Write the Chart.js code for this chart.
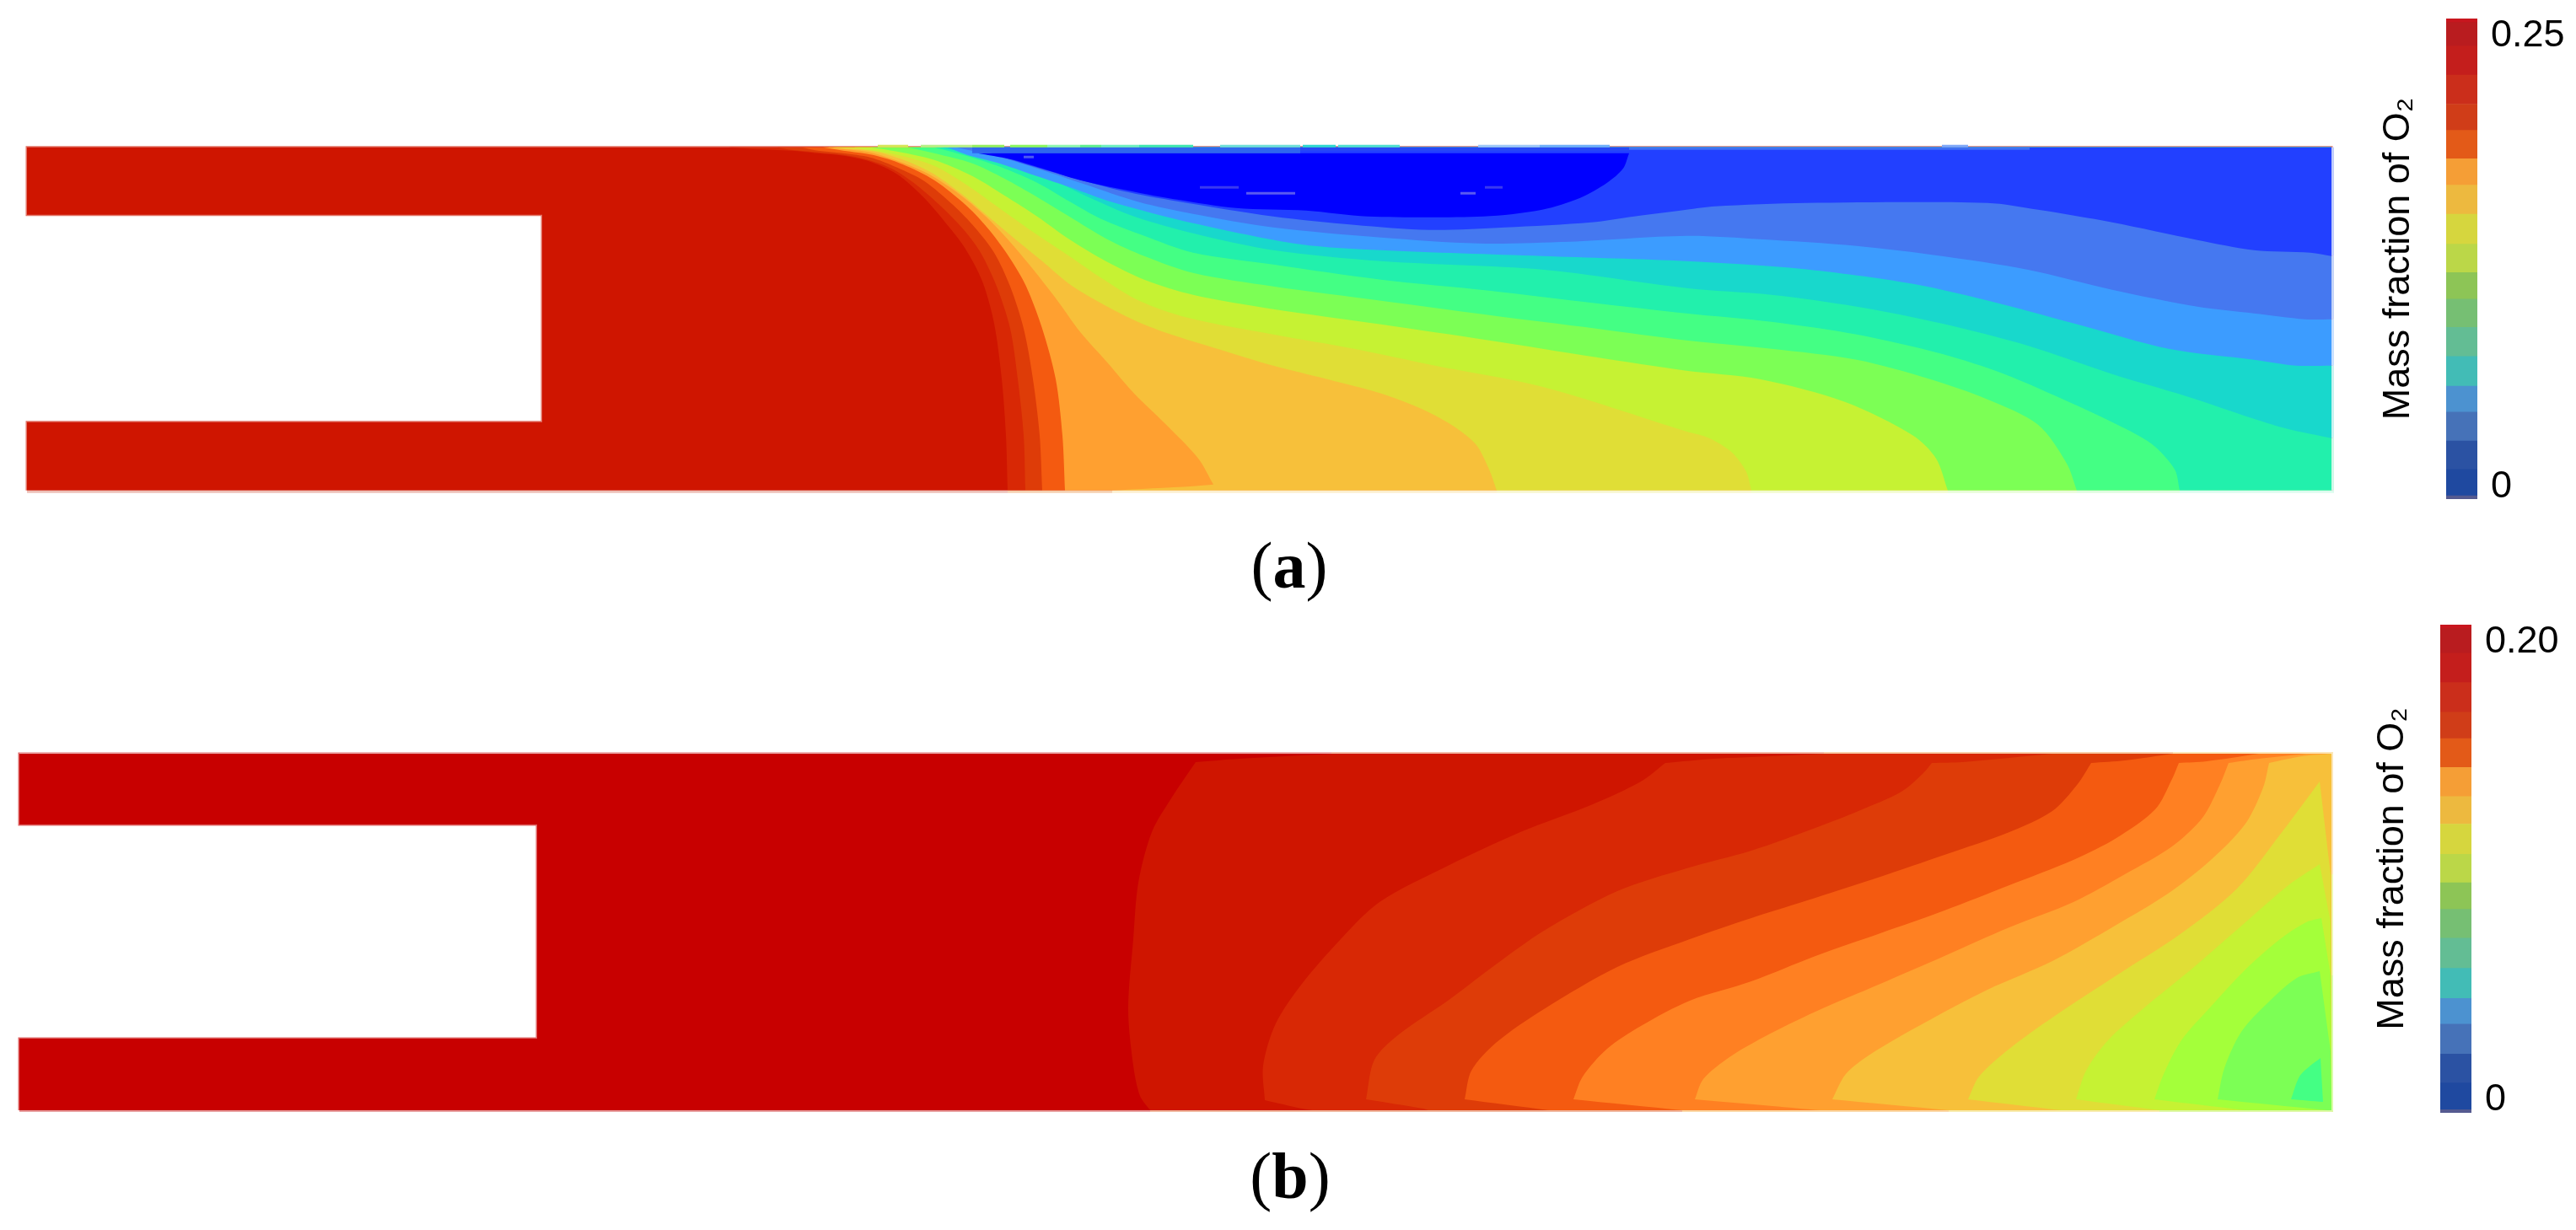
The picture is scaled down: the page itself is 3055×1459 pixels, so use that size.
<!DOCTYPE html>
<html>
<head>
<meta charset="utf-8">
<title>Mass fraction of O2</title>
<script src="https://cdn.jsdelivr.net/npm/chart.js@4"></script>
<style>
    html, body { margin: 0; padding: 0; background: #fff; }
    body { position: relative; width: 3055px; height: 1459px; overflow: hidden; }
    canvas { position: absolute; }
    .tag { position: absolute; width: 200px; text-align: center; font: 78px/90px "Liberation Serif", serif; color: #000; }
</style>
</head>
<body>
<canvas id="panelA" width="2760" height="430" style="left:20px;top:162px"></canvas>
<canvas id="barA" width="255" height="592" style="left:2800px;top:10px"></canvas>
<div class="tag" style="left:1429px;top:626px">(<b>a</b>)</div>
<canvas id="panelB" width="2770" height="450" style="left:11px;top:880px"></canvas>
<canvas id="barB" width="255" height="600" style="left:2793px;top:730px"></canvas>
<div class="tag" style="left:1430px;top:1350px">(<b>b</b>)</div>

<script>
// duct outlines, position along / across the duct
const ductA = [[0,0],[2733,0],[2733,407],[0,407],[0,327],[611,327],[611,81],[0,81],[0,0]];
const ductB = [[0,0],[2742,0],[2742,423],[0,423],[0,339],[614,339],[614,85],[0,85],[0,0]];

// panel (a) iso-O2 lines, highest level first
const a01 = [[1163,0],[1161,65],[1156,132],[1147,198],[1133,248],[1112,288],[1089,318],[1064,347],[1032,375],[1000,390],[968,397],[938,400],[906,403],[861,405],[832,407],[2733,407],[2733,0]];
const a02 = [[1184,0],[1182,65],[1175,132],[1166,192],[1150,242],[1131,282],[1112,308],[1086,335],[1054,363],[1025,382],[994,393],[968,398],[938,401],[906,404],[890,407],[2733,407],[2733,0]];
const a03 = [[1204,0],[1201,65],[1193,132],[1182,192],[1166,242],[1147,282],[1124,312],[1099,338],[1064,367],[1032,383],[1000,395],[968,400],[938,403],[919,407],[2733,407],[2733,0]];
const a04 = [[1231,0],[1228,65],[1220,132],[1204,192],[1185,242],[1166,275],[1142,308],[1115,337],[1076,368],[1038,387],[1003,398],[968,403],[944,407],[2733,407],[2733,0]];
const a05 = [[1287,0],[1383,5],[1407,7],[1407,7],[1389,38],[1351,78],[1313,115],[1281,152],[1249,188],[1220,228],[1191,265],[1163,298],[1137,325],[1105,352],[1070,375],[1035,390],[1000,401],[968,405],[950,407],[2733,407],[2733,0]];
const a06 = [[1743,0],[1734,25],[1718,55],[1689,78],[1651,98],[1606,115],[1542,132],[1478,148],[1415,167],[1351,187],[1313,202],[1274,222],[1236,245],[1204,272],[1172,298],[1140,325],[1108,352],[1076,375],[1045,390],[1006,402],[968,406],[955,407],[2733,407],[2733,0]];
const a07 = [[2045,0],[2039,22],[2022,45],[1995,62],[1968,70],[1797,123],[1670,148],[1574,168],[1478,185],[1376,205],[1319,225],[1274,252],[1236,278],[1191,308],[1153,335],[1115,362],[1076,385],[1032,398],[987,406],[981,407],[2733,407],[2733,0]];
const a08 = [[2278,0],[2264,38],[2237,65],[2156,105],[2055,132],[1968,142],[1861,158],[1734,178],[1606,197],[1478,215],[1383,232],[1325,250],[1274,275],[1236,298],[1198,325],[1159,350],[1121,373],[1076,392],[1032,402],[1000,407],[2733,407],[2733,0]];
const a09 = [[2431,0],[2419,32],[2385,78],[2325,108],[2257,132],[2170,155],[2069,168],[1968,178],[1861,192],[1734,208],[1606,225],[1478,242],[1383,258],[1325,278],[1281,298],[1236,325],[1198,348],[1159,370],[1121,388],[1076,400],[1045,407],[2733,407],[2733,0]];
const a10 = [[2553,0],[2547,25],[2520,55],[2479,78],[2426,103],[2345,138],[2271,162],[2170,185],[2069,200],[1968,210],[1861,222],[1734,237],[1606,250],[1478,268],[1383,282],[1325,302],[1274,322],[1236,343],[1198,365],[1159,382],[1121,395],[1076,407],[2733,407],[2733,0]];
const a11 = [[2733,62],[2681,73],[2641,85],[2560,112],[2473,138],[2372,172],[2271,198],[2170,218],[2069,232],[1968,240],[1797,262],[1606,272],[1478,285],[1383,305],[1313,325],[1261,347],[1223,365],[1185,380],[1147,392],[1108,402],[1083,407],[2733,407]];
const a12 = [[2733,148],[2691,148],[2641,155],[2540,168],[2439,195],[2338,222],[2237,245],[2103,263],[1968,272],[1797,278],[1606,285],[1510,292],[1383,317],[1287,342],[1236,360],[1191,375],[1153,388],[1115,398],[1092,407],[2733,407]];
const a13 = [[2733,203],[2702,203],[2641,210],[2574,218],[2473,238],[2372,262],[2271,278],[2170,290],[2055,298],[1968,302],[1829,295],[1721,293],[1606,300],[1478,312],[1383,328],[1319,342],[1255,363],[1210,378],[1166,392],[1134,400],[1102,407],[2733,407]];
const a14 = [[2733,278],[2708,282],[2641,285],[2574,297],[2473,318],[2385,333],[2325,341],[2109,341],[2002,337],[1968,333],[1906,325],[1855,318],[1753,312],[1663,309],[1574,315],[1478,325],[1364,343],[1300,355],[1236,372],[1191,385],[1153,397],[1121,407],[2733,407]];
const a15 = [[1900,400],[1900,400],[1893,382],[1874,365],[1842,347],[1797,333],[1727,325],[1590,325],[1517,332],[1434,335],[1364,345],[1319,353],[1249,368],[1204,382],[1166,393],[1127,400],[1127,400]];
const contoursA = [a01,a02,a03,a04,a05,a06,a07,a08,a09,a10,a11,a12,a13,a14,a15];
const colorsA = ["#D82805","#DE3C08","#F45A10","#FFA030","#F7C03A","#E0DE36","#C6F233","#7CFF55","#44FF84","#22F0AC","#18D8CC","#3C9CFF","#4578F0","#2240FF","#0000FF"];
const ductColorA = "#CF1500";

// thin strips along the walls of (a): from, to, lower edge, upper edge, colour
const stripsA = [
    [1121,1510,400,407,"#2F66EE"],[1510,1900,403,407,"#2748F5"],[1900,2375,404,407,"#3F70F2"],
    [1182,1194,394,397,"#4A5AF0"],[1391,1437,358,361,"#3A3AF0"],[1446,1504,351,354,"#5A5AF0"],
    [1700,1718,351,354,"#5A5AF0"],[1729,1750,358,361,"#3A3AF0"],
    [1009,1045,407,410,"#D7E65A"],[1060,1121,407,410,"#B8F088"],[1121,1159,407,410,"#96F060"],
    [1166,1210,407,410,"#8CF860"],[1210,1249,407,410,"#90F8B0"],[1249,1274,407,410,"#60F090"],
    [1274,1319,407,410,"#70F0C0"],[1319,1383,407,410,"#40E8B0"],[1415,1510,407,410,"#70E0D8"],
    [1513,1552,407,410,"#30D8D0"],[1555,1628,407,410,"#50E0D0"],[1721,1794,407,410,"#A0C8F8"],
    [1794,1877,407,410,"#70B0FA"],[2271,2302,407,410,"#80A8F8"],
    [0,1163,-3,0,"#EDC0B8"],[1163,1287,-3,0,"#F5D0B0"],[1287,1743,-3,0,"#FCEFD0"],[1743,2045,-3,0,"#F8F6D0"],
    [2045,2278,-3,0,"#F2FAD0"],[2278,2431,-3,0,"#E8FCD8"],[2431,2553,-3,0,"#DFFCE0"],[2553,2736,-3,0,"#DDFBEF"],
    [2733,2736,278,407,"#C0CCFC"],[2733,2736,203,278,"#C5D4F8"],[2733,2736,148,203,"#C8E0FF"],
    [2733,2736,62,148,"#C8F2F0"],[2733,2736,0,62,"#CFF8E8"]
];

// panel (b) iso-O2 lines, highest level first
const b01 = [[1556,423],[1447,417],[1395,413],[1395,413],[1366,370],[1343,330],[1327,270],[1321,203],[1315,120],[1321,53],[1329,17],[1341,0],[2742,0],[2742,423]];
const b02 = [[1533,0],[1521,2],[1477,12],[1477,12],[1475,53],[1490,103],[1521,150],[1567,203],[1613,247],[1694,290],[1780,330],[1866,363],[1923,390],[1952,412],[1952,412],[2009,417],[2053,419],[2077,420],[2140,423],[2742,423],[2742,0]];
const b03 = [[1671,0],[1665,2],[1597,13],[1597,13],[1607,60],[1636,90],[1694,130],[1751,173],[1808,213],[1895,260],[1977,287],[2054,308],[2130,335],[2181,355],[2232,378],[2258,400],[2268,412],[2268,412],[2304,413],[2411,423],[2742,423],[2742,0]];
const b04 = [[1814,0],[1714,13],[1714,13],[1722,47],[1751,80],[1808,120],[1895,170],[1981,203],[2054,228],[2130,252],[2207,277],[2283,303],[2360,330],[2411,355],[2441,387],[2457,412],[2457,412],[2497,415],[2554,423],[2742,423],[2742,0]];
const b05 = [[1972,0],[1843,13],[1843,13],[1854,40],[1883,73],[1923,100],[1981,130],[2054,153],[2130,183],[2207,210],[2283,237],[2360,267],[2436,297],[2487,323],[2533,357],[2553,393],[2561,412],[2561,412],[2594,414],[2656,423],[2742,423],[2742,0]];
const b06 = [[2135,0],[2079,5],[1987,13],[1987,13],[1997,37],[2028,63],[2069,87],[2130,117],[2207,150],[2283,183],[2360,217],[2436,247],[2497,280],[2553,313],[2589,347],[2610,387],[2620,412],[2620,412],[2656,417],[2712,423],[2742,423],[2742,0]];
const b07 = [[2288,0],[2150,13],[2150,13],[2166,43],[2196,67],[2258,103],[2334,143],[2411,177],[2487,220],[2548,257],[2599,297],[2640,340],[2661,383],[2668,412],[2668,412],[2707,420],[2742,423],[2742,0]];
const b08 = [[2421,0],[2311,13],[2311,13],[2324,40],[2360,73],[2411,110],[2487,160],[2564,210],[2630,263],[2681,327],[2728,390],[2728,390],[2741,280],[2741,280],[2742,0]];
const b09 = [[2538,0],[2439,13],[2439,13],[2451,47],[2477,83],[2518,120],[2579,170],[2640,223],[2691,267],[2728,292],[2728,292],[2741,223],[2741,223],[2742,0]];
const b10 = [[2640,0],[2532,13],[2532,13],[2543,43],[2564,83],[2599,123],[2640,167],[2681,203],[2712,223],[2730,228],[2730,228],[2741,160],[2741,160],[2742,0]];
const b11 = [[2737,0],[2607,13],[2607,13],[2615,50],[2635,93],[2666,127],[2701,157],[2728,165],[2728,165],[2741,70],[2741,70],[2742,0]];
const b12 = [[2694,13],[2694,13],[2704,40],[2717,53],[2729,62],[2729,62],[2732,10],[2732,10]];
const contoursB = [b01,b02,b03,b04,b05,b06,b07,b08,b09,b10,b11,b12];
const colorsB = ["#CF1500","#D82805","#DE3C08","#F45A10","#FF8022","#FFA030","#F7C03A","#E0DE36","#C6F233","#A4FF3A","#7CFF55","#44FF84"];
const ductColorB = "#C80000";

const stripsB = [
    [0,1556,423,425,"#EDB0B0"],[1556,2140,423,425,"#F2BBA8"],[2140,2554,423,425,"#F8CDA8"],[2554,2744,423,425,"#FCE6B8"],
    [0,1341,-2,0,"#E8A0A0"],[1341,1972,-2,0,"#F0B8A0"],[1972,2288,-2,0,"#FBD8A8"],[2288,2538,-2,0,"#F8ECB0"],[2538,2744,-2,0,"#DEF8A8"],
    [2742,2744,280,423,"#FCE6B8"],[2742,2744,160,280,"#EEF8B0"],[2742,2744,0,160,"#DAFCA8"]
];

// colour bars, band edges in mass fraction
const barEdgesA = [0,0.0017,0.0154,0.0302,0.0453,0.0587,0.0742,0.0893,0.104,0.1178,0.1326,0.1482,0.1633,0.177,0.1918,0.2055,0.2206,0.2357,0.248,0.25];
const barEdgesB = [0,0.0013,0.0122,0.0241,0.0363,0.0469,0.0592,0.0716,0.0834,0.0943,0.1059,0.1183,0.1296,0.1415,0.1533,0.1641,0.1763,0.1883,0.1984,0.2];
const barColors = ["#555A90","#1F49A0","#2B52A3","#4672B8","#4C92D0","#42BCB6","#63BD94","#76BF73","#8DC556","#BBD748","#D6D63E","#EDB93F","#F59E36","#E35A18","#D03D18","#CB2E1B","#C41E1C","#B91C1F","#C8161E"];
const tickValuesA = [0.0063,0.2411];
const tickLabelsA = ["0","0.25"];
const tickValuesB = [0.0052,0.193];
const tickLabelsB = ["0","0.20"];
const barTitle = "Mass fraction of O\u2082";

// a repeated point keeps the corner sharp when the line is smoothed
function toPoints(list, xEnd, yTop) {
    const pts = [];
    list.concat([list[0]]).forEach(p => {
        pts.push({x: p[0], y: p[1]});
        if (p[0] === xEnd || p[1] === 0 || p[1] === yTop) pts.push({x: p[0], y: p[1]});
    });
    return pts;
}

function polygon(list, color, xEnd, yTop) {
    return {
        data: toPoints(list, xEnd, yTop),
        showLine: true,
        fill: "shape",
        backgroundColor: color,
        borderWidth: 0,
        pointRadius: 0,
        tension: 0.3
    };
}

function drawPanel(id, duct, ductColor, contours, colors, strips, xRange, yRange) {
    const xEnd = duct[1][0];
    const yTop = duct[2][1];
    const outline = polygon(duct, ductColor, xEnd, yTop);
    outline.tension = 0;
    outline.borderWidth = 3;
    outline.borderColor = ductColor + "99";
    const layers = [outline];
    contours.forEach((c, i) => layers.push(polygon(c, colors[i], xEnd, yTop)));
    strips.forEach(s => {
        const d = polygon([[s[0],s[2]],[s[1],s[2]],[s[1],s[3]],[s[0],s[3]]], s[4], xEnd, yTop);
        d.tension = 0;
        layers.push(d);
    });

    new Chart(document.getElementById(id), {
        type: "scatter",
        data: {datasets: layers.reverse()},
        options: {
            responsive: false,
            animation: false,
            plugins: {legend: {display: false}, tooltip: {enabled: false}},
            scales: {
                x: {type: "linear", display: false, min: xRange[0], max: xRange[1]},
                y: {type: "linear", display: false, min: yRange[0], max: yRange[1]}
            }
        }
    });
}

function drawBar(id, edges, tickValues, tickLabels, area) {
    const bands = barColors.map((c, i) => ({
        data: [[edges[i], edges[i + 1]]],
        backgroundColor: c,
        borderWidth: 0,
        barPercentage: 1,
        categoryPercentage: 1,
        grouped: false
    }));

    new Chart(document.getElementById(id), {
        type: "bar",
        data: {labels: [""], datasets: bands},
        options: {
            responsive: false,
            animation: false,
            layout: {padding: area.padding},
            plugins: {
                legend: {display: false},
                tooltip: {enabled: false},
                title: {
                    display: true,
                    text: barTitle,
                    position: "left",
                    color: "#000",
                    font: {family: "'Liberation Sans', Arial, sans-serif", size: 45, weight: "normal"},
                    padding: area.titlePadding
                }
            },
            scales: {
                x: {display: false},
                y: {
                    position: "right",
                    min: edges[0],
                    max: edges[edges.length - 1],
                    grid: {display: false, drawTicks: false},
                    border: {display: false},
                    afterBuildTicks: axis => { axis.ticks = tickValues.map(v => ({value: v})); },
                    afterFit: axis => {
                        axis.width = area.axisWidth;
                        axis.paddingTop = 0;
                        axis.paddingBottom = 0;
                    },
                    ticks: {
                        color: "#000",
                        padding: 16,
                        autoSkip: false,
                        font: {family: "'Liberation Sans', Arial, sans-serif", size: 45},
                        callback: (v, i) => tickLabels[i]
                    }
                }
            }
        }
    });
}

drawPanel("panelA", ductA, ductColorA, contoursA, colorsA, stripsA, [-12,2748], [-10.3,419.7]);
drawPanel("panelB", ductB, ductColorB, contoursB, colorsB, stripsB, [-12,2758], [-13,437]);
drawBar("barA", barEdgesA, tickValuesA, tickLabelsA, {padding: {top: 12, bottom: 10, left: 0}, titlePadding: {top: 18, bottom: 29}, axisWidth: 117});
drawBar("barB", barEdgesB, tickValuesB, tickLabelsB, {padding: {top: 11, bottom: 10, left: 0}, titlePadding: {top: 18, bottom: 29}, axisWidth: 117});
</script>
</body>
</html>
